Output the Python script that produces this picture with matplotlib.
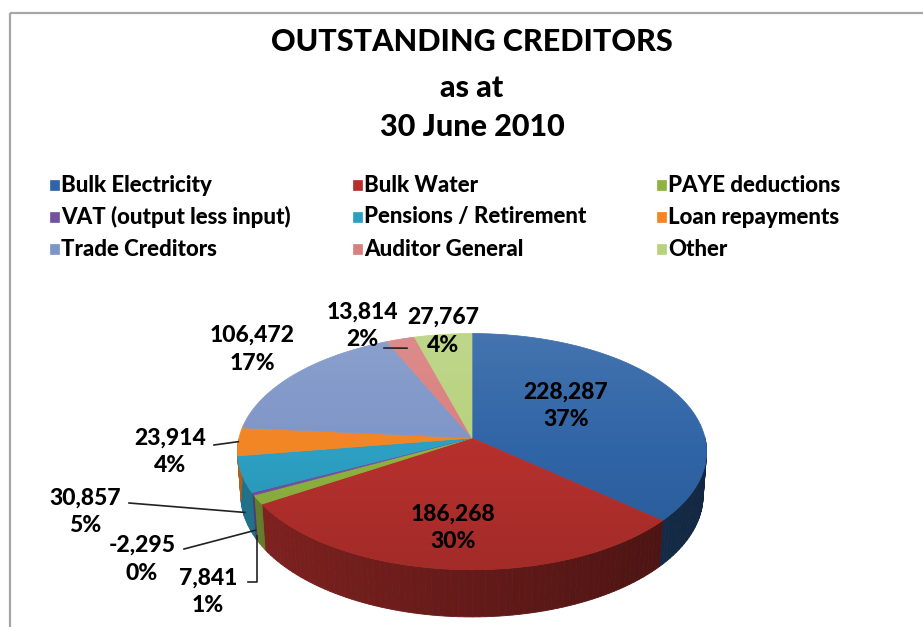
import numpy as np
import matplotlib
matplotlib.use("Agg")
import matplotlib.pyplot as plt
from matplotlib.patches import Polygon, Rectangle
from matplotlib.colors import to_rgb

# Creditor balances as at 30 June 2010
categories = ["Bulk Electricity", "Bulk Water", "PAYE deductions",
              "VAT (output less input)", "Pensions / Retirement", "Loan repayments",
              "Trade Creditors", "Auditor General", "Other"]
amounts = [228287, 186268, 7841, -2295, 30857, 23914, 106472, 13814, 27767]
colors = ["#2F64A6", "#B5302D", "#8EB33F", "#7252A0", "#2C9FC2", "#F28524",
          "#7D95C7", "#D97F7E", "#B7D27D"]

title_lines = ["OUTSTANDING CREDITORS", "as at", "30 June 2010"]

# label text centres (pixels) and leader lines
label_pos = [(566, 392), (453, 514), (208, 578), (142, 545), (85, 498),
             (170, 438), (252, 335), (362, 312), (443, 317)]
leader_start = [None, None, (248, 582), (184, 549), (129, 503),
                (214, 445), None, (384, 348), None]
leader_elbow = [None, None, (257, 582), None, None, None, None, None, None]
leader_drop = [0, 0, 0.8, 0.8, 0.85, 0.0, 0, 0, 0]   # fraction of wall height
leader_r = [1, 1, 1, 1, 1, 1, 1, 0.9, 1]

FONT = ["Lato", "DejaVu Sans"]
plt.rcParams["font.family"] = FONT

W, H = 923, 627
fig = plt.figure(figsize=(W / 100, H / 100), dpi=100)
ax = fig.add_axes([0, 0, 1, 1])
ax.set_xlim(0, W)
ax.set_ylim(H, 0)
ax.axis("off")

# chart frame (only top and left edges fall inside the image)
ax.add_patch(Rectangle((10, 13), W + 20, H + 20, fill=False, ec="#A6A6A6", lw=1.6))

# --- 3D pie projection -------------------------------------------------------
cx, cy = 472, 438          # pie centre on screen
S = 233                    # radius in pixels
elev = np.radians(30)      # viewing tilt
D = 7.5                    # camera distance (perspective)
depth = 0.22               # slab thickness


def project(t, h=0.0, r=1.0):
    """t: angle (math convention), h: height (0 top, -depth bottom)."""
    x = r * np.cos(t)
    z = -r * np.sin(t)                 # positive z toward the viewer
    up = h * np.cos(elev) - z * np.sin(elev)
    dist = D - (z * np.cos(elev) + h * np.sin(elev))
    k = D / dist
    return cx + S * x * k, cy - S * up * k


sizes = np.abs(np.array(amounts, dtype=float))
fracs = sizes / sizes.sum()
edges = np.concatenate([[0], np.cumsum(fracs)]) * 360
# clockwise from 12 o'clock
start_ang = np.radians(90 - edges[:-1])
end_ang = np.radians(90 - edges[1:])

# outer wall: only the front half (sin t < 0) is visible
for a0, a1, col in zip(start_ang, end_ang, colors):
    ts = np.linspace(a0, a1, max(3, int(abs(a1 - a0) / np.radians(1.5)) + 2))
    base = np.array(to_rgb(col))
    for s0, s1 in zip(ts[:-1], ts[1:]):
        tm = 0.5 * (s0 + s1)
        if np.sin(tm) >= 0:
            continue
        shade = 0.72 - 0.34 * (np.cos(tm) + 1) / 2
        pts = [project(s0), project(s1), project(s1, -depth), project(s0, -depth)]
        ax.add_patch(Polygon(pts, closed=True, fc=base * shade, ec=base * shade, lw=0.6))

# top faces
top_outline = []
for a0, a1, col in zip(start_ang, end_ang, colors):
    ts = np.linspace(a0, a1, max(3, int(abs(a1 - a0) / np.radians(0.5)) + 2))
    pts = [(cx, cy)] + [project(t) for t in ts]
    ax.add_patch(Polygon(pts, closed=True, fc=col, ec=col, lw=0.5))
    top_outline += [project(t) for t in ts]

# soft light-to-dark sheen over the top face
clip = Polygon(top_outline, closed=True, transform=ax.transData, fc="none", ec="none")
ax.add_patch(clip)
grad = np.linspace(0, 1, 256)[:, None]
sheen = np.zeros((256, 2, 4))
sheen[..., :3] = np.where(grad[..., None] < 0.5, 1.0, 0.0)
sheen[..., 3] = np.abs(grad - 0.5)[:, :] * 0.22
im = ax.imshow(sheen, extent=(cx - S - 5, cx + S + 5, cy + 140, cy - 110),
               aspect="auto", interpolation="bilinear", zorder=1.5)
im.set_clip_path(clip)
ax.set_xlim(0, W)
ax.set_ylim(H, 0)

# --- data labels -------------------------------------------------------------
total = sum(amounts)
mids = 0.5 * (start_ang + end_ang)
lab_kw = dict(ha="center", va="center", fontsize=16.5, fontweight="black", color="black", zorder=3)
for i, val in enumerate(amounts):
    pct = int(round(val / total * 100))
    lx, ly = label_pos[i]
    ax.text(lx, ly, f"{val:,}", **lab_kw)
    ax.text(lx, ly + 28, f"{pct}%", **lab_kw)
    if leader_start[i] is not None:
        ex, ey = project(mids[i], -depth * leader_drop[i], leader_r[i])
        xs = [leader_start[i][0]]
        ys = [leader_start[i][1]]
        if leader_elbow[i] is not None:
            xs.append(leader_elbow[i][0])
            ys.append(leader_elbow[i][1])
            ex = leader_elbow[i][0]
        xs.append(ex)
        ys.append(ey)
        ax.plot(xs, ys, color="#222222", lw=1.2, zorder=3)

# --- title -------------------------------------------------------------------
for line, y in zip(title_lines, [42, 88, 127]):
    ax.text(472, y, line, ha="center", va="center", fontsize=22,
            fontweight="black", color="black")

# --- legend (three columns, filled row by row) --------------------------------
col_x = [50, 353, 657]
row_y = [185, 217, 249]
for i, (name, col) in enumerate(zip(categories, colors)):
    r, c = divmod(i, 3)
    ax.add_patch(Rectangle((col_x[c], row_y[r] - 5), 9, 10, fc=col, ec=col, lw=0.5))
    ax.text(col_x[c] + 11, row_y[r], name, ha="left", va="center", fontsize=16,
            fontweight="black", color="black")

fig.savefig("out.png", dpi=100, facecolor="white")
